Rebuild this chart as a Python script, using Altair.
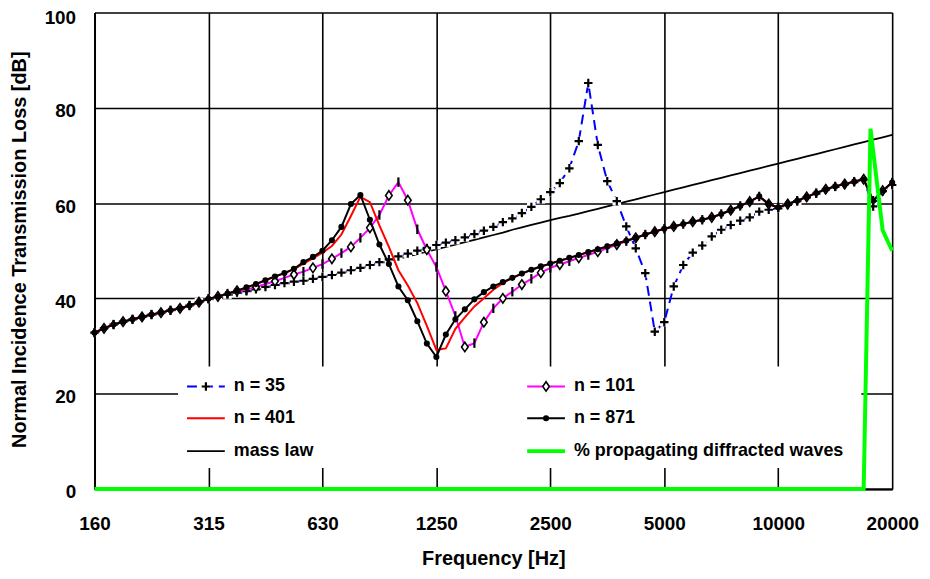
import altair as alt
import pandas as pd

# ---------------- data ----------------
# 1/12-octave frequency grid [Hz]
freq = [160, 169.5, 179.6, 190.3, 201.6, 213.6, 226.3, 239.7, 254.0, 269.1, 285.1, 302.0,
        320, 339.0, 359.2, 380.6, 403.2, 427.2, 452.5, 479.5, 508.0, 538.2, 570.2, 604.1,
        640, 678.0, 718.4, 761.1, 806.3, 854.3, 905.1, 958.9, 1016, 1076, 1140, 1208,
        1280, 1356, 1437, 1522, 1613, 1709, 1810, 1918, 2032, 2153, 2281, 2416,
        2560, 2712, 2874, 3044, 3225, 3417, 3620, 3836, 4064, 4305, 4561, 4833,
        5120, 5424, 5747, 6089, 6451, 6834, 7241, 7671, 8127, 8611, 9123, 9665,
        10240, 10849, 11494, 12177, 12902, 13669, 14482, 15343, 16255, 17222, 18246, 19331,
        20480]

n35 = [32.8, 33.7, 34.5, 35.1, 35.6, 36.1, 36.6, 37.0, 37.5, 37.9, 38.5, 39.2,
       39.9, 40.3, 40.8, 41.2, 41.5, 41.9, 42.4, 42.8, 43.2, 43.5, 43.7, 44.1,
       44.5, 44.9, 45.4, 45.9, 46.4, 47.0, 47.6, 48.2, 48.8, 49.4, 50.0, 50.6,
       51.2, 51.7, 52.2, 52.8, 53.5, 54.2, 55.0, 56.0, 56.8, 57.9, 59.2, 60.8,
       62.3, 64.2, 67.3, 73.0, 85.2, 72.2, 64.6, 60.4, 55.1, 50.5, 45.3, 33.0,
       35.0, 42.5, 47.0, 49.6, 51.1, 53.0, 54.4, 55.4, 56.3, 57.0, 58.2, 58.6,
       58.9, 59.6, 60.4, 61.2, 62.0, 62.8, 63.4, 63.9, 64.4, 64.9, 59.3, 62.5,
       63.8]

n101 = [32.8, 33.7, 34.5, 35.1, 35.6, 36.1, 36.6, 37.0, 37.5, 37.9, 38.5, 39.2,
        39.9, 40.4, 41.0, 41.6, 41.8, 42.4, 43.0, 43.6, 44.3, 45.0, 45.6, 46.4,
        47.2, 48.3, 49.5, 50.8, 52.7, 54.8, 57.5, 61.6, 64.4, 60.6, 54.5, 50.2,
        46.6, 41.5, 36.3, 29.8, 30.6, 35.0, 37.9, 40.0, 41.4, 42.9, 44.1, 45.4,
        46.4, 47.1, 47.8, 48.5, 49.1, 49.8, 50.5, 51.3, 52.0, 52.7, 53.4, 54.0,
        54.6, 55.1, 55.6, 56.1, 56.5, 57.0, 57.7, 58.5, 59.4, 60.3, 61.4, 59.8,
        59.1, 59.8, 60.5, 61.3, 62.1, 62.9, 63.5, 64.0, 64.5, 65.0, 60.5, 62.6,
        64.3]

n401 = [32.8, 33.7, 34.5, 35.1, 35.6, 36.1, 36.6, 37.0, 37.5, 37.9, 38.5, 39.2,
        39.9, 40.4, 41.0, 41.6, 42.3, 43.0, 43.8, 44.6, 45.3, 46.1, 47.3, 48.4,
        49.6, 51.0, 53.4, 57.3, 61.3, 60.2, 55.3, 50.8, 45.9, 42.7, 39.0, 34.2,
        29.2, 29.5, 33.6, 36.0, 38.3, 40.0, 41.8, 43.2, 44.3, 45.2, 46.0, 46.7,
        47.3, 47.9, 48.5, 49.1, 49.7, 50.3, 50.9, 51.5, 52.1, 52.7, 53.4, 54.0,
        54.6, 55.1, 55.6, 56.1, 56.5, 57.0, 57.7, 58.5, 59.4, 60.3, 61.4, 59.8,
        59.1, 59.8, 60.5, 61.3, 62.1, 62.9, 63.5, 64.0, 64.5, 65.0, 60.5, 62.6,
        64.3]

n871 = [32.8, 33.7, 34.5, 35.1, 35.6, 36.1, 36.6, 37.0, 37.5, 37.9, 38.5, 39.2,
        39.9, 40.4, 41.0, 41.6, 42.3, 43.0, 43.8, 44.6, 45.3, 46.2, 47.6, 48.7,
        50.0, 52.2, 55.0, 59.8, 61.7, 56.5, 51.3, 47.2, 42.5, 39.6, 35.2, 30.5,
        27.7, 32.4, 35.6, 37.7, 39.8, 41.3, 42.5, 43.4, 44.3, 45.2, 46.0, 46.7,
        47.3, 47.9, 48.5, 49.1, 49.7, 50.3, 50.9, 51.5, 52.1, 52.7, 53.4, 54.0,
        54.6, 55.1, 55.6, 56.1, 56.5, 57.0, 57.7, 58.5, 59.4, 60.3, 61.4, 59.8,
        59.1, 59.8, 60.5, 61.3, 62.1, 62.9, 63.5, 64.0, 64.5, 65.0, 60.5, 62.6,
        64.3]

mass_law = [32.6, 33.5, 34.3, 34.9, 35.4, 35.9, 36.4, 36.8, 37.3, 37.7, 38.3, 39.0,
            39.6, 40.0, 40.5, 40.9, 41.3, 41.7, 42.2, 42.6, 43.0, 43.3, 43.6, 44.0,
            44.4, 44.8, 45.3, 45.8, 46.3, 46.8, 47.3, 47.8, 48.3, 48.8, 49.3, 49.8,
            50.3, 50.8, 51.3, 51.8, 52.3, 52.8, 53.3, 53.8, 54.4, 54.9, 55.4, 55.9,
            56.4, 56.9, 57.3, 57.8, 58.3, 58.8, 59.3, 59.8, 60.3, 60.8, 61.3, 61.8,
            62.3, 62.8, 63.3, 63.8, 64.3, 64.8, 65.3, 65.8, 66.3, 66.8, 67.3, 67.8,
            68.3, 68.8, 69.3, 69.8, 70.3, 70.8, 71.3, 71.8, 72.3, 72.8, 73.3, 73.8,
            74.3]

green_freq = [160, 17222, 17950, 19331, 20480]
green_pct = [0, 0, 75.6, 54.3, 50.0]

tick_values = [160, 320, 640, 1280, 2560, 5120, 10240, 20480]
tick_labels = ["160", "315", "630", "1250", "2500", "5000", "10000", "20000"]
y_ticks = [0, 20, 40, 60, 80, 100]

legend_labels = ["n = 35", "n = 101", "n = 401", "n = 871", "mass law",
                 "% propagating diffracted waves"]

# ---------------- tables ----------------
df = pd.DataFrame({"f": freq, "n35": n35, "n101": n101, "n401": n401,
                   "n871": n871, "mass": mass_law})
df["idx"] = range(len(df))
df["mk"] = df["idx"] % 2
gdf = pd.DataFrame({"f": green_freq, "pct": green_pct})
one = pd.DataFrame({"a": [1]})

FONT = "Liberation Sans, Arial, Helvetica, sans-serif"

label_expr = ""
for v, l in zip(tick_values[:-1], tick_labels[:-1]):
    label_expr += f"datum.value < {v * 1.25} ? '{l}' : "
label_expr += f"'{tick_labels[-1]}'"

xscale = alt.Scale(type="log", domain=[160, 20480], nice=False)
yscale = alt.Scale(domain=[0, 100], nice=False, zero=True)

xaxis = alt.Axis(values=tick_values, labelExpr=label_expr, grid=True,
                 gridColor="black", gridWidth=1.6, gridOpacity=1,
                 domain=True, domainColor="black", domainWidth=2,
                 ticks=False, tickSize=0, labelPadding=41, labelBaseline="alphabetic",
                 labelFont=FONT, labelFontSize=19, labelFontWeight="bold",
                 labelColor="black", labelFlush=False, labelOverlap=False,
                 title="Frequency [Hz]", titleFont=FONT, titleFontSize=20,
                 titleFontWeight="bold", titleColor="black",
                 titleX=401, titleY=76, titleAlign="center", titleBaseline="alphabetic")
yaxis = alt.Axis(values=y_ticks, grid=True, gridColor="black", gridWidth=1.6,
                 gridOpacity=1, domain=True, domainColor="black", domainWidth=2,
                 ticks=False, tickSize=0, labelPadding=19,
                 labelFont=FONT, labelFontSize=19, labelFontWeight="bold",
                 labelColor="black", labelFlush=False, labelOverlap=False,
                 labelOffset={"condition": {"test": "datum.value >= 100", "value": 5}, "value": 3},
                 title="Normal Incidence Transmission Loss [dB]", titleFont=FONT,
                 titleFontSize=20, titleFontWeight="bold", titleColor="black",
                 titleX=-75, titleY=238, titleAngle=270, titleAlign="center",
                 titleBaseline="middle")

X = alt.X("f:Q", scale=xscale, axis=xaxis)


def Y(field):
    return alt.Y(f"{field}:Q", scale=yscale, axis=yaxis)


PLUS = "M-1,0L1,0M0,-1L0,1"
VBAR = "M0,-1L0,1"
DIAM = "M0,-1L0.7,0L0,1L-0.7,0Z"

base = alt.Chart(df)

box = alt.Chart(one).mark_rect(color="white").encode(
    x=alt.value(84), x2=alt.value(771), y=alt.value(356), y2=alt.value(458))

mass_line = base.mark_line(color="black", strokeWidth=1.8).encode(x=X, y=Y("mass"))

n35_line = base.mark_line(color="#0000ff", strokeWidth=2, strokeDash=[10, 6]).encode(x=X, y=Y("n35"))
n35_halo = base.mark_point(shape="square", filled=True, color="white", size=75,
                           opacity=1).encode(x=X, y=Y("n35"))
n35_pts = base.mark_point(shape=PLUS, filled=False, color="black", strokeWidth=2.2,
                          size=72, opacity=1).encode(x=X, y=Y("n35"))

n101_line = base.mark_line(color="#ff00ff", strokeWidth=2).encode(x=X, y=Y("n101"))
n101_dia = base.transform_filter(alt.datum.mk == 1).mark_point(
    shape=DIAM, filled=True, fill="white", stroke="black", strokeWidth=1.6,
    size=90, opacity=1).encode(x=X, y=Y("n101"))
n101_bar = base.transform_filter(alt.datum.mk == 0).mark_point(
    shape=VBAR, filled=False, color="black", strokeWidth=2.2, size=90,
    opacity=1).encode(x=X, y=Y("n101"))

n401_line = base.mark_line(color="#ff0000", strokeWidth=2).encode(x=X, y=Y("n401"))

n871_line = base.mark_line(color="black", strokeWidth=2).encode(x=X, y=Y("n871"))
n871_pts = base.mark_point(shape="circle", filled=True, color="black", size=38,
                           opacity=1).encode(x=X, y=Y("n871"))

green_line = alt.Chart(gdf).mark_line(color="#00ff00", strokeWidth=4).encode(x=X, y=Y("pct"))

# ---------------- manual legend ----------------
c1s, c1e, c1m, c1t = 93, 131, 112, 140
c2s, c2e, c2m, c2t = 435, 473, 454, 482
r1, r2, r3 = 376, 408, 441


def seg(x1, x2, y, color, width, dash=None):
    kw = dict(color=color, strokeWidth=width)
    if dash:
        kw["strokeDash"] = dash
    return alt.Chart(one).mark_rule(**kw).encode(
        x=alt.value(x1), x2=alt.value(x2), y=alt.value(y))


def txt(x, y, s):
    return alt.Chart(one).mark_text(align="left", baseline="middle", font=FONT,
                                    fontSize=18, fontWeight="bold", color="black").encode(
        x=alt.value(x), y=alt.value(y), text=alt.value(s))


leg = [
    seg(c1s, c1e, r1, "#0000ff", 2, [10, 6]),
    alt.Chart(one).mark_point(shape="square", filled=True, color="white", size=75,
                              opacity=1).encode(x=alt.value(c1m), y=alt.value(r1)),
    alt.Chart(one).mark_point(shape=PLUS, filled=False, color="black", strokeWidth=2.2,
                              size=72, opacity=1).encode(x=alt.value(c1m), y=alt.value(r1)),
    txt(c1t, r1, legend_labels[0]),
    seg(c2s, c2e, r1, "#ff00ff", 2),
    alt.Chart(one).mark_point(shape=DIAM, filled=True, fill="white", stroke="black",
                              strokeWidth=1.6, size=90, opacity=1).encode(
        x=alt.value(c2m), y=alt.value(r1)),
    txt(c2t, r1, legend_labels[1]),
    seg(c1s, c1e, r2, "#ff0000", 2),
    txt(c1t, r2, legend_labels[2]),
    seg(c2s, c2e, r2, "black", 2),
    alt.Chart(one).mark_point(shape="circle", filled=True, color="black", size=38,
                              opacity=1).encode(x=alt.value(c2m), y=alt.value(r2)),
    txt(c2t, r2, legend_labels[3]),
    seg(c1s, c1e, r3, "black", 1.8),
    txt(c1t, r3, legend_labels[4]),
    seg(c2s, c2e, r3, "#00ff00", 4),
    txt(c2t, r3, legend_labels[5]),
]

chart = alt.layer(
    box, mass_line, n35_line, n35_halo, n35_pts, n101_line, n101_dia, n101_bar,
    n401_line, n871_line, n871_pts, green_line, *leg
).properties(
    width=802, height=479,
    autosize=alt.AutoSizeParams(type="none"),
    padding={"left": 87, "top": 3, "right": 30, "bottom": 83},
    background="white",
).configure_view(stroke=None)

chart.save("out.html", embed_options={"renderer": "svg", "actions": False})
